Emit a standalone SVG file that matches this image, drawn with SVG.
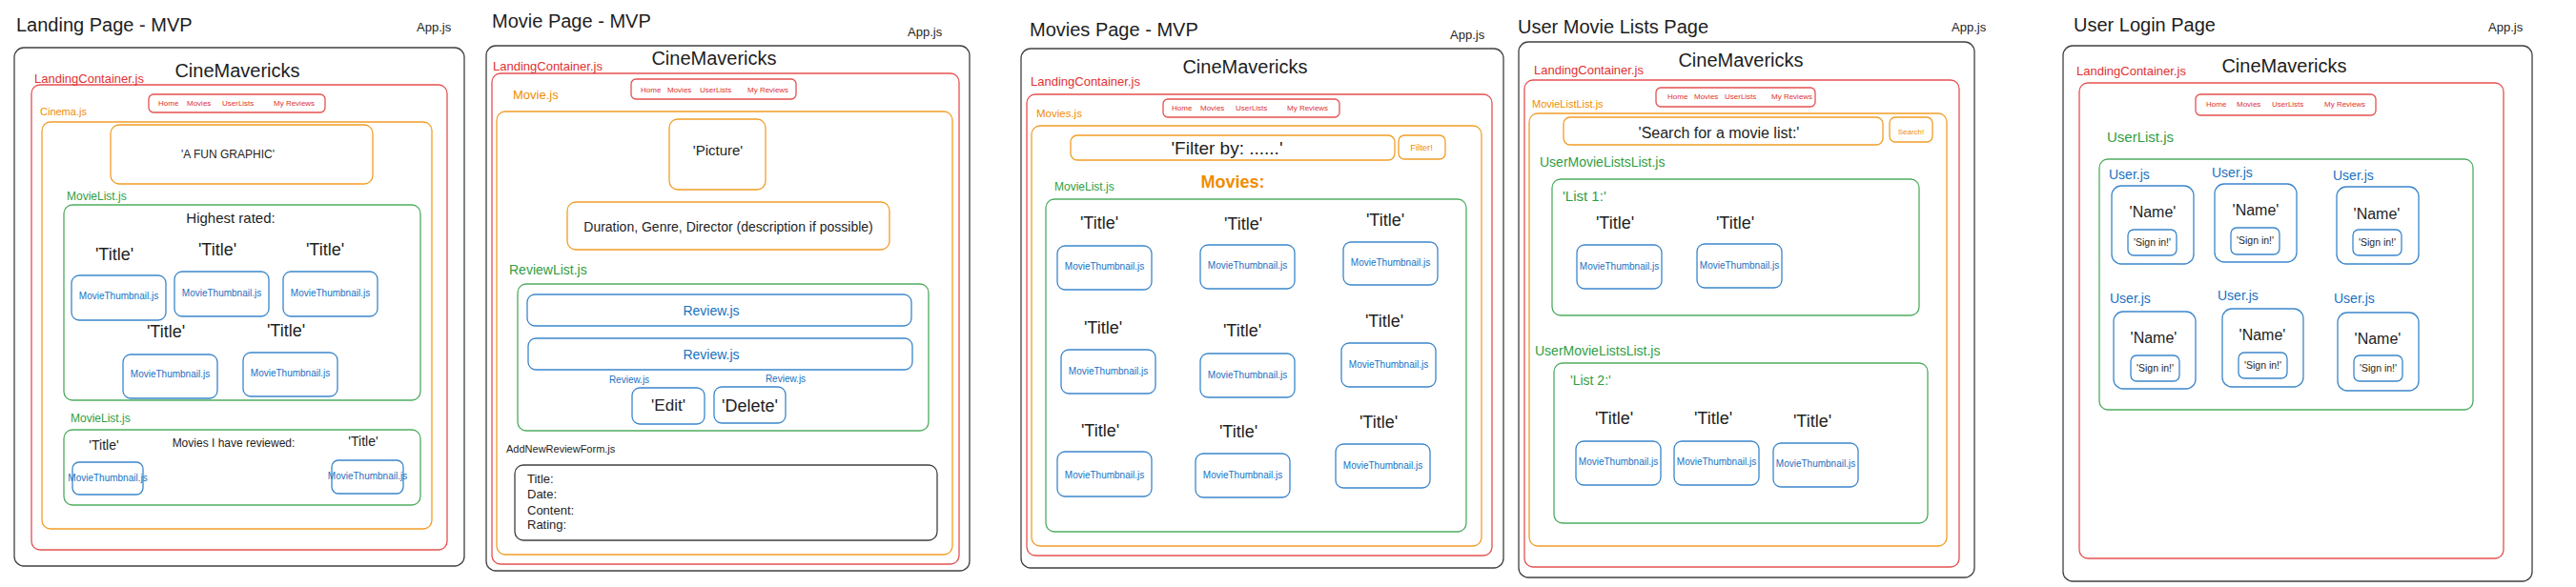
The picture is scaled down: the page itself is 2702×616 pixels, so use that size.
<svg xmlns="http://www.w3.org/2000/svg" width="2702" height="616" viewBox="0 0 2702 616">
<style>
rect{fill:none;stroke-width:1.3;stroke-opacity:0.85}
.k{stroke:#1e1e1e}
.r{stroke:#e03131}
.o{stroke:#f08c00}
.g{stroke:#2f9e44}
.b{stroke:#1971c2}
text{font-family:"Liberation Sans",Arial,sans-serif;fill:#1e1e1e}
.c{text-anchor:middle}
.tr{fill:#e03131}
.to{fill:#f08c00}
.tg{fill:#2f9e44}
.tb{fill:#1971c2}
.ph{font-size:20px}
.app{font-size:13px}
.cm{font-size:20px;text-anchor:middle}
.lc{font-size:13px;fill:#e03131}
.nav{font-size:8px;fill:#e03131}
.th{font-size:10px;fill:#1971c2;text-anchor:middle}
.ti{font-size:18px;text-anchor:middle}
</style>
<rect x="0" y="0" width="2702" height="616" style="fill:#ffffff;stroke:none"/>

<!-- Panel 1: Landing Page -->
<g id="landing-page">
<text class="ph" x="17" y="33">Landing Page - MVP</text>
<text class="app" x="437" y="33">App.js</text>
<rect class="k" x="15" y="50" width="472" height="544" rx="10"/>
<text class="cm" x="249" y="81">CineMavericks</text>
<g id="p1-landing-container">
<text class="lc" x="36" y="87">LandingContainer.js</text>
<rect class="r" x="33" y="89" width="436" height="488" rx="9"/>
</g>
<g id="p1-nav">
<rect class="r" x="156" y="99" width="185" height="19" rx="5"/>
<text class="nav" x="166" y="111">Home</text><text class="nav" x="196" y="111">Movies</text><text class="nav" x="233" y="111">UserLists</text><text class="nav" x="287" y="111">My Reviews</text>
</g>
<g id="p1-cinema">
<text class="to" x="42" y="121" font-size="11">Cinema.js</text>
<rect class="o" x="44" y="128" width="409" height="427" rx="9"/>
</g>
<g id="p1-graphic">
<rect class="o" x="116" y="131" width="275" height="62" rx="9"/>
<text class="c" x="239" y="166" font-size="12">'A FUN GRAPHIC'</text>
</g>
<g id="p1-movielist-1">
<text class="tg" x="70" y="210" font-size="12">MovieList.js</text>
<rect class="g" x="67" y="215" width="374" height="205" rx="9"/>
<text class="c" x="242" y="234" font-size="15">Highest rated:</text>
<text class="ti" x="120" y="273">'Title'</text>
<text class="ti" x="228" y="268">'Title'</text>
<text class="ti" x="341" y="268">'Title'</text>
<text class="ti" x="174" y="354">'Title'</text>
<text class="ti" x="300" y="353">'Title'</text>
</g>
<g id="p1-thumb-1"><rect class="b" x="75" y="289" width="99" height="47" rx="8"/><text class="th" x="124.5" y="314">MovieThumbnail.js</text></g>
<g id="p1-thumb-2"><rect class="b" x="183" y="285" width="99" height="47" rx="8"/><text class="th" x="232.5" y="311">MovieThumbnail.js</text></g>
<g id="p1-thumb-3"><rect class="b" x="297" y="285" width="99" height="47" rx="8"/><text class="th" x="346.5" y="311">MovieThumbnail.js</text></g>
<g id="p1-thumb-4"><rect class="b" x="129" y="372" width="99" height="46" rx="8"/><text class="th" x="178.5" y="396">MovieThumbnail.js</text></g>
<g id="p1-thumb-5"><rect class="b" x="255" y="370" width="99" height="46" rx="8"/><text class="th" x="304.5" y="395">MovieThumbnail.js</text></g>
<g id="p1-movielist-2">
<text class="tg" x="74" y="443" font-size="12">MovieList.js</text>
<rect class="g" x="67" y="451" width="374" height="79" rx="9"/>
<text class="c" x="109" y="472" font-size="14">'Title'</text>
<text class="c" x="245" y="469" font-size="12">Movies I have reviewed:</text>
<text class="c" x="381" y="468" font-size="14">'Title'</text>
</g>
<g id="p1-thumb-6"><rect class="b" x="76" y="485" width="74" height="34" rx="7"/><text class="th" x="113" y="505" font-size="7.7">MovieThumbnail.js</text></g>
<g id="p1-thumb-7"><rect class="b" x="348" y="483" width="75" height="35" rx="7"/><text class="th" x="385.5" y="503" font-size="7.7">MovieThumbnail.js</text></g>
</g>

<!-- Panel 2: Movie Page -->
<g id="movie-page">
<text class="ph" x="516" y="29" font-size="19">Movie Page - MVP</text>
<text class="app" x="952" y="38">App.js</text>
<rect class="k" x="510" y="48" width="507" height="551" rx="10"/>
<text class="cm" x="749" y="68">CineMavericks</text>
<g id="p2-landing-container">
<text class="lc" x="517" y="74" font-size="12">LandingContainer.js</text>
<rect class="r" x="516" y="77" width="490" height="515" rx="9"/>
</g>
<g id="p2-nav">
<rect class="r" x="662" y="83" width="173" height="21" rx="5"/>
<text class="nav" x="672" y="97">Home</text><text class="nav" x="700" y="97">Movies</text><text class="nav" x="734" y="97">UserLists</text><text class="nav" x="784" y="97">My Reviews</text>
</g>
<g id="p2-movie">
<text class="to" x="538" y="104" font-size="13">Movie.js</text>
<rect class="o" x="521" y="117" width="478" height="465" rx="9"/>
</g>
<g id="p2-picture"><rect class="o" x="702" y="125" width="101" height="74" rx="9"/><text class="c" x="753" y="163" font-size="15">'Picture'</text></g>
<g id="p2-details"><rect class="o" x="595" y="212" width="338" height="50" rx="9"/><text class="c" x="764" y="243" font-size="14">Duration, Genre, Director (description if possible)</text></g>
<g id="p2-reviewlist">
<text class="tg" x="534" y="288" font-size="14">ReviewList.js</text>
<rect class="g" x="543" y="298" width="431" height="154" rx="9"/>
</g>
<g id="p2-review-1"><rect class="b" x="553" y="309" width="403" height="33" rx="8"/><text class="c tb" x="746" y="331" font-size="14">Review.js</text></g>
<g id="p2-review-2"><rect class="b" x="554" y="355" width="403" height="33" rx="8"/><text class="c tb" x="746" y="377" font-size="14">Review.js</text></g>
<g id="p2-edit"><text class="c tb" x="660" y="402" font-size="10">Review.js</text><rect class="b" x="663" y="407" width="76" height="38" rx="8"/><text class="c" x="701" y="431" font-size="17">'Edit'</text></g>
<g id="p2-delete"><text class="c tb" x="824" y="401" font-size="10">Review.js</text><rect class="b" x="749" y="406" width="75" height="38" rx="8"/><text class="c" x="786.5" y="432" font-size="18">'Delete'</text></g>
<g id="p2-form">
<text x="531" y="475" font-size="11">AddNewReviewForm.js</text>
<rect class="k" x="540" y="488" width="443" height="79" rx="9"/>
<text x="553" y="507" font-size="13">Title:</text>
<text x="553" y="523" font-size="13">Date:</text>
<text x="553" y="540" font-size="13">Content:</text>
<text x="553" y="555" font-size="13">Rating:</text>
</g>
</g>

<!-- Panel 3: Movies Page -->
<g id="movies-page">
<text class="ph" x="1080" y="38">Movies Page - MVP</text>
<text class="app" x="1521" y="41">App.js</text>
<rect class="k" x="1071" y="51" width="506" height="545" rx="10"/>
<text class="cm" x="1306" y="77">CineMavericks</text>
<g id="p3-landing-container">
<text class="lc" x="1081" y="90">LandingContainer.js</text>
<rect class="r" x="1077" y="99" width="488" height="484" rx="9"/>
</g>
<g id="p3-nav">
<rect class="r" x="1220" y="104" width="185" height="19" rx="5"/>
<text class="nav" x="1229" y="116">Home</text><text class="nav" x="1259" y="116">Movies</text><text class="nav" x="1296" y="116">UserLists</text><text class="nav" x="1350" y="116">My Reviews</text>
</g>
<g id="p3-movies">
<text class="to" x="1087" y="123" font-size="11.5">Movies.js</text>
<rect class="o" x="1082" y="132" width="472" height="441" rx="9"/>
<text class="c to" x="1293" y="197" font-size="18" font-weight="bold">Movies:</text>
</g>
<g id="p3-filter"><rect class="o" x="1123" y="142" width="340" height="26" rx="7"/><text class="c" x="1287" y="162" font-size="19">'Filter by: ......'</text></g>
<g id="p3-filter-btn"><rect class="o" x="1467" y="142" width="49" height="25" rx="6"/><text class="c to" x="1491" y="158" font-size="9.5">Filter!</text></g>
<g id="p3-movielist">
<text class="tg" x="1106" y="200" font-size="12">MovieList.js</text>
<rect class="g" x="1097" y="209" width="441" height="349" rx="9"/>
<text class="ti" x="1153" y="240">'Title'</text>
<text class="ti" x="1304" y="241">'Title'</text>
<text class="ti" x="1453" y="237">'Title'</text>
<text class="ti" x="1157" y="350">'Title'</text>
<text class="ti" x="1303" y="353">'Title'</text>
<text class="ti" x="1452" y="343">'Title'</text>
<text class="ti" x="1154" y="458">'Title'</text>
<text class="ti" x="1299" y="459">'Title'</text>
<text class="ti" x="1446" y="449">'Title'</text>
</g>
<g id="p3-thumb-1"><rect class="b" x="1109" y="258" width="99" height="46" rx="8"/><text class="th" x="1158.5" y="283">MovieThumbnail.js</text></g>
<g id="p3-thumb-2"><rect class="b" x="1259" y="257" width="99" height="46" rx="8"/><text class="th" x="1308.5" y="282">MovieThumbnail.js</text></g>
<g id="p3-thumb-3"><rect class="b" x="1409" y="254" width="99" height="45" rx="8"/><text class="th" x="1458.5" y="279">MovieThumbnail.js</text></g>
<g id="p3-thumb-4"><rect class="b" x="1113" y="367" width="99" height="46" rx="8"/><text class="th" x="1162.5" y="393">MovieThumbnail.js</text></g>
<g id="p3-thumb-5"><rect class="b" x="1259" y="371" width="99" height="46" rx="8"/><text class="th" x="1308.5" y="397">MovieThumbnail.js</text></g>
<g id="p3-thumb-6"><rect class="b" x="1407" y="360" width="99" height="46" rx="8"/><text class="th" x="1456.5" y="386">MovieThumbnail.js</text></g>
<g id="p3-thumb-7"><rect class="b" x="1109" y="474" width="99" height="47" rx="8"/><text class="th" x="1158.5" y="502">MovieThumbnail.js</text></g>
<g id="p3-thumb-8"><rect class="b" x="1254" y="476" width="99" height="46" rx="8"/><text class="th" x="1303.5" y="502">MovieThumbnail.js</text></g>
<g id="p3-thumb-9"><rect class="b" x="1401" y="466" width="99" height="46" rx="8"/><text class="th" x="1450.5" y="492">MovieThumbnail.js</text></g>
</g>

<!-- Panel 4: User Movie Lists Page -->
<g id="user-movie-lists-page">
<text class="ph" x="1592" y="35" font-size="18">User Movie Lists Page</text>
<text class="app" x="2047" y="33">App.js</text>
<rect class="k" x="1593" y="44" width="478" height="562" rx="10"/>
<text class="cm" x="1826" y="70">CineMavericks</text>
<g id="p4-landing-container">
<text class="lc" x="1609" y="78" font-size="12">LandingContainer.js</text>
<rect class="r" x="1599" y="84" width="456" height="511" rx="9"/>
</g>
<g id="p4-nav">
<rect class="r" x="1737" y="92" width="167" height="20" rx="5"/>
<text class="nav" x="1749" y="104">Home</text><text class="nav" x="1777" y="104">Movies</text><text class="nav" x="1809" y="104">UserLists</text><text class="nav" x="1858" y="104">My Reviews</text>
</g>
<g id="p4-movielistlist">
<text class="to" x="1607" y="113" font-size="11">MovieListList.js</text>
<rect class="o" x="1604" y="119" width="438" height="454" rx="9"/>
</g>
<g id="p4-search"><rect class="o" x="1640" y="123" width="335" height="29" rx="7"/><text class="c" x="1803" y="145" font-size="16">'Search for a movie list:'</text></g>
<g id="p4-search-btn"><rect class="o" x="1982" y="123" width="45" height="26" rx="6"/><text class="c to" x="2004.5" y="141" font-size="8">Search!</text></g>
<g id="p4-list-1">
<text class="tg" x="1615" y="175" font-size="14">UserMovieListsList.js</text>
<rect class="g" x="1628" y="188" width="385" height="143" rx="9"/>
<text class="tg" x="1639" y="211" font-size="15">'List 1:'</text>
<text class="ti" x="1694" y="240" font-size="17">'Title'</text>
<text class="ti" x="1820" y="240" font-size="17">'Title'</text>
</g>
<g id="p4-thumb-1"><rect class="b" x="1654" y="257" width="89" height="46" rx="8"/><text class="th" x="1698.5" y="283" font-size="9">MovieThumbnail.js</text></g>
<g id="p4-thumb-2"><rect class="b" x="1780" y="256" width="89" height="46" rx="8"/><text class="th" x="1824.5" y="282" font-size="9">MovieThumbnail.js</text></g>
<g id="p4-list-2">
<text class="tg" x="1610" y="373" font-size="14">UserMovieListsList.js</text>
<rect class="g" x="1630" y="381" width="392" height="168" rx="9"/>
<text class="tg" x="1647" y="404" font-size="14">'List 2:'</text>
<text class="ti" x="1693" y="445" font-size="17">'Title'</text>
<text class="ti" x="1797" y="445" font-size="17">'Title'</text>
<text class="ti" x="1901" y="448" font-size="17">'Title'</text>
</g>
<g id="p4-thumb-3"><rect class="b" x="1653" y="463" width="89" height="46" rx="8"/><text class="th" x="1697.5" y="488" font-size="9">MovieThumbnail.js</text></g>
<g id="p4-thumb-4"><rect class="b" x="1756" y="463" width="89" height="46" rx="8"/><text class="th" x="1800.5" y="488" font-size="9">MovieThumbnail.js</text></g>
<g id="p4-thumb-5"><rect class="b" x="1860" y="465" width="89" height="46" rx="8"/><text class="th" x="1904.5" y="490" font-size="9">MovieThumbnail.js</text></g>
</g>

<!-- Panel 5: User Login Page -->
<g id="user-login-page">
<text class="ph" x="2175" y="33" font-size="19">User Login Page</text>
<text class="app" x="2610" y="33">App.js</text>
<rect class="k" x="2164" y="48" width="492" height="562" rx="10"/>
<text class="cm" x="2396" y="76">CineMavericks</text>
<g id="p5-landing-container">
<text class="lc" x="2178" y="79">LandingContainer.js</text>
<rect class="r" x="2181" y="87" width="445" height="499" rx="9"/>
</g>
<g id="p5-nav">
<rect class="r" x="2303" y="99" width="189" height="22" rx="5"/>
<text class="nav" x="2314" y="112">Home</text><text class="nav" x="2346" y="112">Movies</text><text class="nav" x="2383" y="112">UserLists</text><text class="nav" x="2438" y="112">My Reviews</text>
</g>
<g id="p5-userlist">
<text class="tg" x="2210" y="149" font-size="15">UserList.js</text>
<rect class="g" x="2202" y="167" width="392" height="263" rx="9"/>
</g>
<g id="p5-user-1"><text class="tb" x="2212" y="188" font-size="14">User.js</text><rect class="b" x="2215" y="195" width="86" height="82" rx="10"/><text class="c" x="2258" y="228" font-size="16">'Name'</text><rect class="b" x="2232" y="241" width="51" height="27" rx="6"/><text class="c" x="2257.5" y="258" font-size="10.5">'Sign in!'</text></g>
<g id="p5-user-2"><text class="tb" x="2320" y="186" font-size="14">User.js</text><rect class="b" x="2323" y="193" width="86" height="82" rx="10"/><text class="c" x="2366" y="226" font-size="16">'Name'</text><rect class="b" x="2340" y="239" width="51" height="28" rx="6"/><text class="c" x="2365.5" y="256" font-size="10.5">'Sign in!'</text></g>
<g id="p5-user-3"><text class="tb" x="2447" y="189" font-size="14">User.js</text><rect class="b" x="2451" y="196" width="86" height="81" rx="10"/><text class="c" x="2493" y="230" font-size="16">'Name'</text><rect class="b" x="2468" y="241" width="51" height="27" rx="6"/><text class="c" x="2493.5" y="258" font-size="10.5">'Sign in!'</text></g>
<g id="p5-user-4"><text class="tb" x="2213" y="318" font-size="14">User.js</text><rect class="b" x="2217" y="327" width="86" height="81" rx="10"/><text class="c" x="2259" y="360" font-size="16">'Name'</text><rect class="b" x="2235" y="373" width="51" height="27" rx="6"/><text class="c" x="2260.5" y="390" font-size="10.5">'Sign in!'</text></g>
<g id="p5-user-5"><text class="tb" x="2326" y="315" font-size="14">User.js</text><rect class="b" x="2331" y="324" width="85" height="82" rx="10"/><text class="c" x="2373" y="357" font-size="16">'Name'</text><rect class="b" x="2348" y="370" width="51" height="27" rx="6"/><text class="c" x="2373.5" y="387" font-size="10.5">'Sign in!'</text></g>
<g id="p5-user-6"><text class="tb" x="2448" y="318" font-size="14">User.js</text><rect class="b" x="2452" y="328" width="85" height="82" rx="10"/><text class="c" x="2494" y="361" font-size="16">'Name'</text><rect class="b" x="2469" y="373" width="51" height="27" rx="6"/><text class="c" x="2494.5" y="390" font-size="10.5">'Sign in!'</text></g>
</g>
</svg>
